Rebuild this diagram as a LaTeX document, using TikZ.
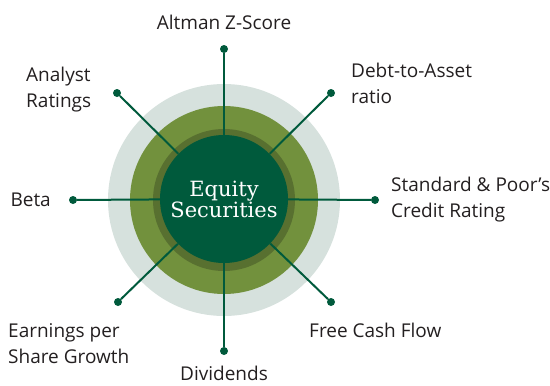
\documentclass[tikz,border=0pt]{standalone}
\usepackage{fontspec}
\setmainfont{Open Sans}
\newfontfamily\slabfont{DejaVu Serif}
\definecolor{eqgreen}{HTML}{005A3C}
\definecolor{ringgray}{HTML}{D6E1DD}
\definecolor{ringgreen}{HTML}{72913D}
\definecolor{ringolive}{HTML}{587030}
\definecolor{txt}{HTML}{231F20}
\tikzset{
  dot/.style={circle,fill=eqgreen,inner sep=0pt,minimum size=8pt},
  spoke/.style={draw=eqgreen,line width=2pt},
  lbl/.style={font=\fontsize{19}{26}\selectfont,text=txt,align=left,inner sep=0pt}
}
\begin{document}
\begin{tikzpicture}[x=1pt,y=-1pt]
\useasboundingbox (0,0) rectangle (550,386);

%\draw[step=50,gray,very thin] (0,0) grid (550,386);
\fill[ringgray] (224,200) circle (116pt);
\fill[ringgreen] (224,200) circle (94pt);
\fill[ringolive] (224,200) circle (71pt);

\node[circle,fill=eqgreen,minimum size=128pt,inner sep=0pt,text=white,align=center,
  font=\slabfont\fontsize{21}{21}\selectfont] (core) at (224,199) {Equity\\Securities};

\node[dot] (altman) at (224,49) {};
\node[dot] (debt) at (331,93) {};
\node[dot] (sp) at (375,200) {};
\node[dot] (fcf) at (331,302) {};
\node[dot] (div) at (224,351) {};
\node[dot] (eps) at (118,302) {};
\node[dot] (beta) at (73,200) {};
\node[dot] (analyst) at (117,93) {};

\draw[spoke] (core) -- (altman);
\draw[spoke] (core) -- (debt);
\draw[spoke] (core) -- (sp);
\draw[spoke] (core) -- (fcf);
\draw[spoke] (core) -- (div);
\draw[spoke] (core) -- (eps);
\draw[spoke] (core) -- (beta);
\draw[spoke] (core) -- (analyst);

% base anchor of a two-line label sits on its last line
\node[lbl,anchor=base] (altmanlbl) at (224,29) {Altman Z-Score};
\node[lbl,anchor=base west] (debtlbl) at (351,103) {Debt-to-Asset\\ratio};
\node[lbl,anchor=base west] (splbl) at (391,217) {Standard \& Poor’s\\Credit Rating};
\node[lbl,anchor=base west] (fcflbl) at (309,337) {Free Cash Flow};
\node[lbl,anchor=base] (divlbl) at (224,380) {Dividends};
\node[lbl,anchor=base west] (epslbl) at (8,363) {Earnings per\\Share Growth};
\node[lbl,anchor=base east] (betalbl) at (51,206) {Beta};
\node[lbl,anchor=base west] (analystlbl) at (26,107) {Analyst\\Ratings};
\end{tikzpicture}
\end{document}
